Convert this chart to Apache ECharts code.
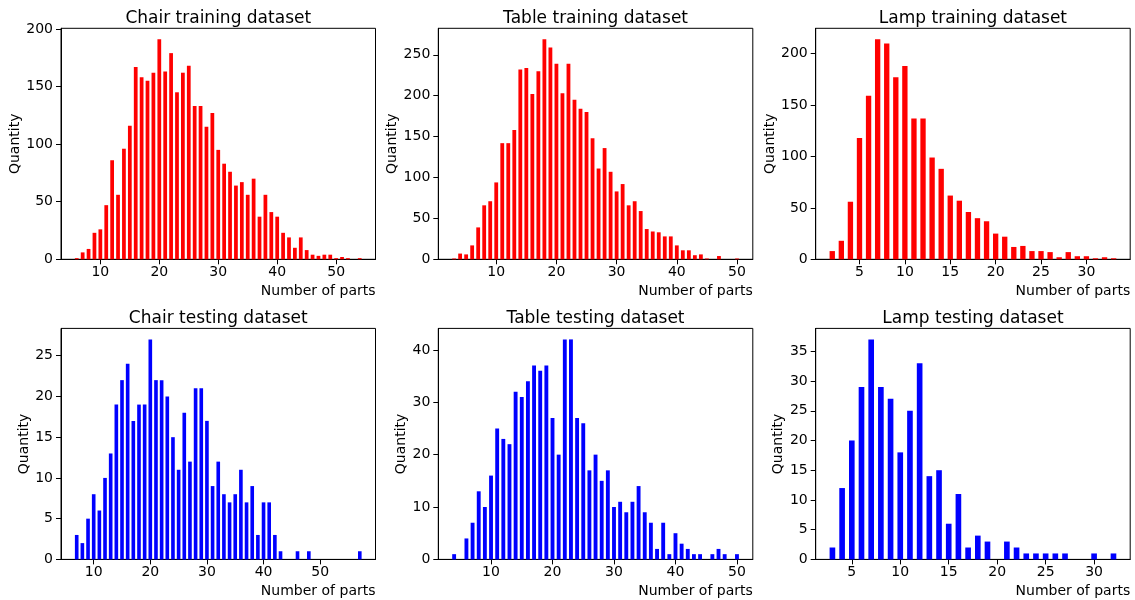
<!DOCTYPE html>
<html>
<head>
<meta charset="utf-8">
<title>Number of parts per shape</title>
<script src="https://cdn.jsdelivr.net/npm/echarts@6/dist/echarts.min.js"></script>
<style>
html, body { margin: 0; padding: 0; background: #fff; }
#main { width: 1135px; height: 600px; }
</style>
</head>
<body>
<div id="main"></div>
<script>
// counts per number of parts, each list starts at its "from" value
var chairTrainFrom = 6;
var chairTrain = [1, 6, 9, 23, 26, 47, 86, 56, 96, 116, 167, 158, 155, 162, 191,
    163, 179, 145, 162, 168, 133, 133, 115, 127, 95, 83, 76, 64, 67, 56, 70, 37,
    56, 41, 37, 23, 19, 10, 19, 8, 4, 3, 4, 4, 1, 2, 1, 0, 1];
var tableTrainFrom = 3;
var tableTrain = [1, 7, 6, 17, 39, 66, 71, 94, 142, 142, 158, 232, 234, 202, 230,
    269, 259, 239, 203, 239, 195, 184, 180, 148, 111, 136, 107, 83, 92, 66, 71, 59,
    37, 34, 33, 28, 28, 17, 11, 11, 5, 6, 1, 0, 4, 0, 0, 1];
var lampTrainFrom = 2;
var lampTrain = [8, 18, 56, 118, 159, 214, 210, 177, 188, 137, 137, 99, 88, 62, 57,
    46, 40, 37, 25, 22, 12, 13, 8, 8, 7, 2, 7, 3, 3, 1, 2, 1];
var chairTestFrom = 7;
var chairTest = [3, 2, 5, 8, 6, 10, 13, 19, 22, 24, 17, 19, 19, 27, 22, 22, 20, 15,
    11, 18, 12, 21, 21, 17, 9, 12, 8, 7, 8, 11, 7, 9, 3, 7, 7, 3, 1, 0, 0, 1, 0, 1,
    0, 0, 0, 0, 0, 0, 0, 0, 1];
var tableTestFrom = 4;
var tableTest = [1, 0, 4, 7, 13, 10, 16, 25, 23, 22, 32, 31, 34, 37, 36, 37, 27, 20,
    42, 42, 27, 26, 17, 20, 15, 17, 10, 11, 9, 11, 14, 9, 7, 2, 7, 1, 5, 3, 2, 1, 1,
    0, 1, 2, 1, 0, 1];
var lampTestFrom = 3;
var lampTest = [2, 12, 20, 29, 37, 29, 27, 18, 25, 33, 14, 15, 6, 11, 2, 4, 3, 0, 3,
    2, 1, 1, 1, 1, 1, 0, 0, 1, 0, 1];

// tick labels
var xTicksTens = [10, 20, 30, 40, 50];
var xTicksFives = [5, 10, 15, 20, 25, 30];
var chairTrainY = [0, 50, 100, 150, 200];
var tableTrainY = [0, 50, 100, 150, 200, 250];
var lampTrainY = [0, 50, 100, 150, 200];
var chairTestY = [0, 5, 10, 15, 20, 25];
var tableTestY = [0, 10, 20, 30, 40];
var lampTestY = [0, 5, 10, 15, 20, 25, 30, 35];

var RED = '#ff0000';
var BLUE = '#0000ff';
var FONT = 'DejaVu Sans';

var colLeft = [61, 438.3, 815.7];
var rowTop = [28.3, 328.4];
var gridW = 314.5;
var gridH = 231;

var panels = [
    {title: 'Chair training dataset', from: chairTrainFrom, counts: chairTrain,
        color: RED, xTicks: xTicksTens, yTicks: chairTrainY, col: 0, row: 0, gap: 38},
    {title: 'Table training dataset', from: tableTrainFrom, counts: tableTrain,
        color: RED, xTicks: xTicksTens, yTicks: tableTrainY, col: 1, row: 0, gap: 38},
    {title: 'Lamp training dataset', from: lampTrainFrom, counts: lampTrain,
        color: RED, xTicks: xTicksFives, yTicks: lampTrainY, col: 2, row: 0, gap: 38},
    {title: 'Chair testing dataset', from: chairTestFrom, counts: chairTest,
        color: BLUE, xTicks: xTicksTens, yTicks: chairTestY, col: 0, row: 1, gap: 30},
    {title: 'Table testing dataset', from: tableTestFrom, counts: tableTest,
        color: BLUE, xTicks: xTicksTens, yTicks: tableTestY, col: 1, row: 1, gap: 30},
    {title: 'Lamp testing dataset', from: lampTestFrom, counts: lampTest,
        color: BLUE, xTicks: xTicksFives, yTicks: lampTestY, col: 2, row: 1, gap: 30}
];

var option = {
    backgroundColor: '#fff',
    animation: false,
    textStyle: {fontFamily: FONT},
    title: [],
    grid: [],
    xAxis: [],
    yAxis: [],
    series: []
};

panels.forEach(function(p, i) {
    var left = colLeft[p.col];
    var top = rowTop[p.row];
    // bars 0.5 wide, 5% margin like the original plot
    var lo = p.from - 0.25;
    var hi = p.from + p.counts.length - 1 + 0.25;
    var pad = (hi - lo) * 0.05;
    var xMin = lo - pad;
    var xMax = hi + pad;
    var yMax = Math.max.apply(null, p.counts) * 1.05;
    // the original's antialiased edges make bars look about a pixel wider
    var barW = 0.5 * gridW / (xMax - xMin) + 0.8;

    var data = p.counts.map(function(v, k) {
        return [p.from + k, v];
    });

    option.title.push({
        text: p.title,
        left: left + gridW / 2,
        top: top - 18,
        textAlign: 'center',
        padding: 0,
        textStyle: {fontFamily: FONT, fontSize: 17, fontWeight: 'normal', color: '#000'}
    });
    option.title.push({
        text: 'Number of parts',
        right: 1135 - left - gridW,
        top: top + gridH + 25,
        padding: 0,
        textStyle: {fontFamily: FONT, fontSize: 14, fontWeight: 'normal', color: '#000'}
    });
    option.grid.push({
        left: left,
        top: top,
        width: gridW,
        height: gridH,
        show: true,
        borderColor: '#000',
        borderWidth: 1,
        backgroundColor: 'transparent'
    });
    option.xAxis.push({
        type: 'value',
        gridIndex: i,
        min: xMin,
        max: xMax,
        axisLine: {show: true, onZero: false, lineStyle: {color: '#000', width: 1}},
        axisTick: {show: true, length: 5, customValues: p.xTicks,
            lineStyle: {color: '#000', width: 1}},
        axisLabel: {customValues: p.xTicks, color: '#000', fontSize: 14,
            fontFamily: FONT, margin: 6},
        splitLine: {show: false}
    });
    option.yAxis.push({
        type: 'value',
        gridIndex: i,
        min: 0,
        max: yMax,
        name: 'Quantity',
        nameLocation: 'middle',
        nameGap: p.gap,
        nameTextStyle: {color: '#000', fontSize: 14, fontFamily: FONT},
        axisLine: {show: true, lineStyle: {color: '#000', width: 1}},
        axisTick: {show: true, length: 5, customValues: p.yTicks,
            lineStyle: {color: '#000', width: 1}},
        axisLabel: {customValues: p.yTicks, color: '#000', fontSize: 14,
            fontFamily: FONT, margin: 8},
        splitLine: {show: false}
    });
    option.series.push({
        type: 'bar',
        xAxisIndex: i,
        yAxisIndex: i,
        data: data,
        barWidth: barW,
        itemStyle: {color: p.color},
        silent: true
    });
});

var myChart = echarts.init(document.getElementById('main'));
myChart.setOption(option);
</script>
</body>
</html>
